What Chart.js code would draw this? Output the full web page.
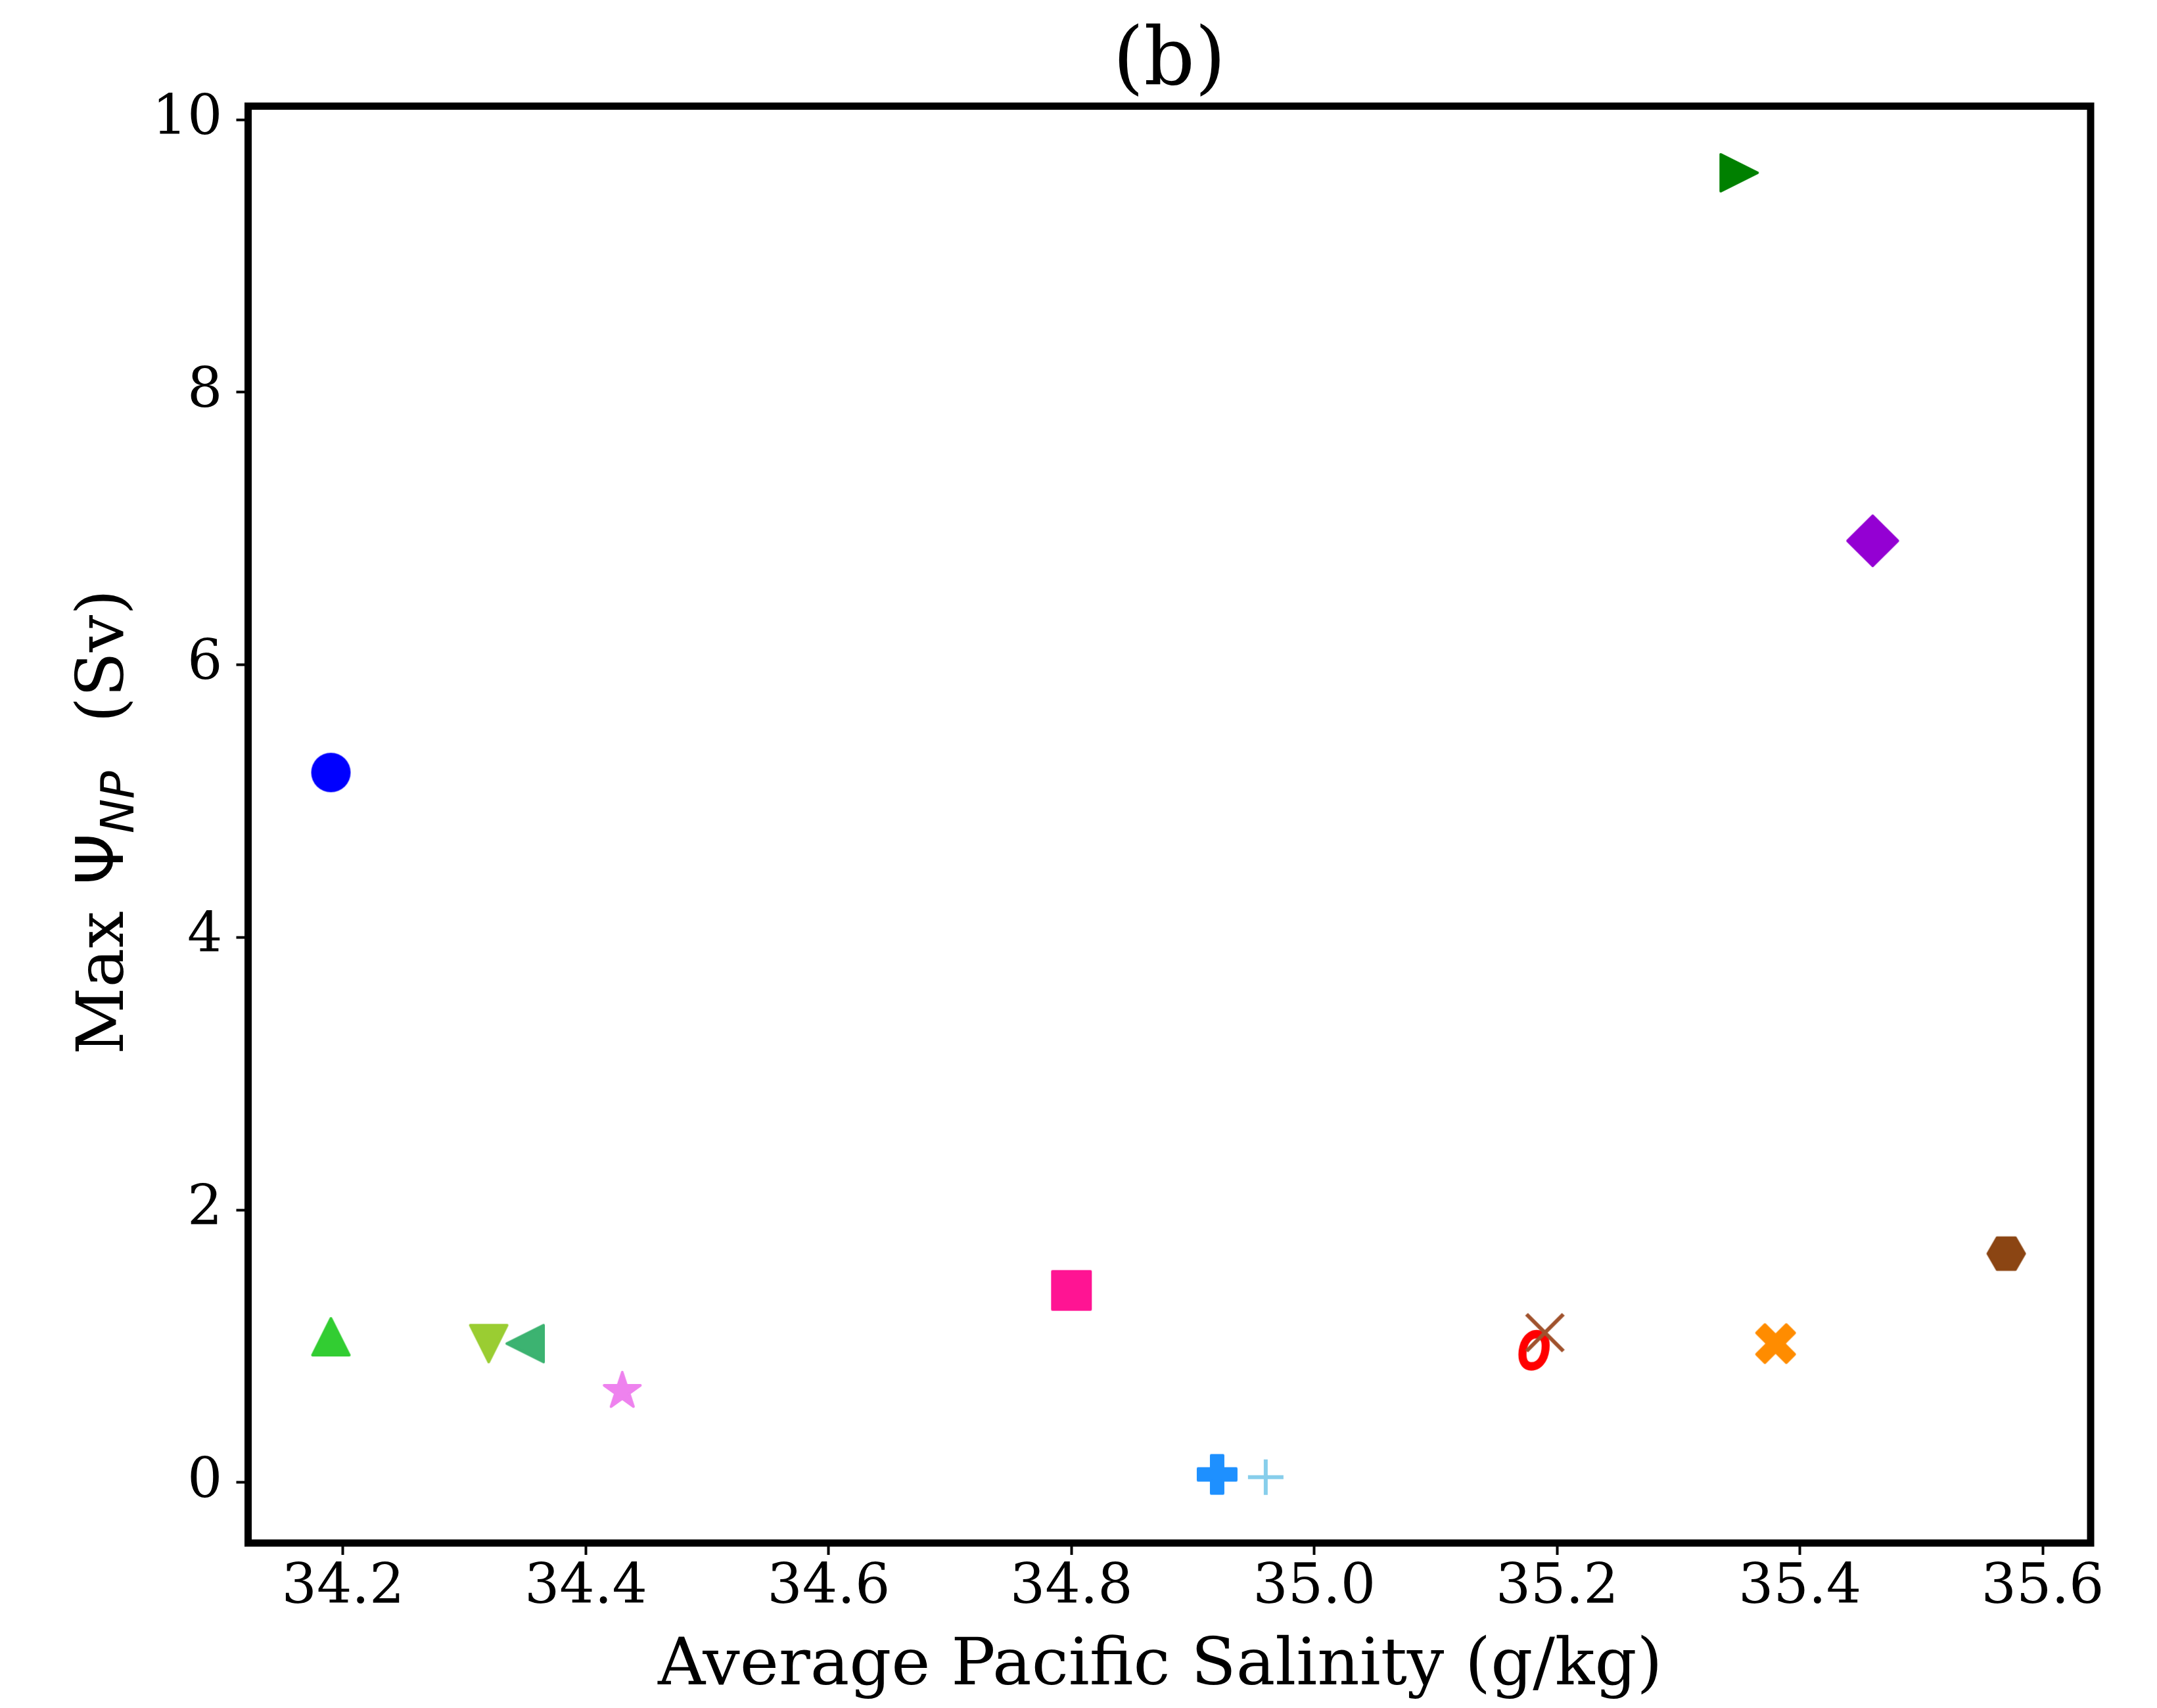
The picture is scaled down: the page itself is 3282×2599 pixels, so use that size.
<!DOCTYPE html>
<html>
<head>
<meta charset="utf-8">
<script src="https://cdn.jsdelivr.net/npm/chart.js@4.4.0/dist/chart.umd.min.js"></script>
<style>
    html, body { margin: 0; padding: 0; background: #ffffff; }
    #salinity_canvas { display: block; }
</style>
</head>
<body>
<canvas id="salinity_canvas" width="3282" height="2599" style="width:3282px;height:2599px"></canvas>
<script>
// one point per model run
const salinity = [34.19, 34.19, 34.32, 34.35, 34.43, 34.80, 34.92, 34.96, 35.183, 35.19, 35.35, 35.38, 35.46, 35.57];
const max_psi_np = [5.21, 1.07, 1.02, 1.02, 0.68, 1.41, 0.06, 0.04, 0.97, 1.10, 9.61, 1.02, 6.91, 1.68];
const marker_shapes = ['circle', 'tri_up', 'tri_down', 'tri_left', 'star', 'square', 'plus_filled', 'plus',
                       'text_o', 'x', 'tri_right', 'x_filled', 'diamond', 'hexagon'];
const marker_colors = ['#0000FF', '#32CD32', '#9ACD32', '#3CB371', '#EE82EE', '#FF1493', '#1E90FF', '#87CEEB',
                       '#FF0000', '#A0522D', '#008000', '#FF8C00', '#9400D3', '#8B4513'];

const x_ticks = [34.2, 34.4, 34.6, 34.8, 35.0, 35.2, 35.4, 35.6];
const y_ticks = [0, 2, 4, 6, 8, 10];
const x_range = [34.1218, 35.6395];
const y_range = [-0.4436, 10.099];

const title_text = '(b)';
const x_label = 'Average Pacific Salinity (g/kg)';

const SERIF = "'DejaVu Serif'";
const SANS = "'DejaVu Sans'";

function path_plus(ctx, a, w) {
    ctx.beginPath();
    ctx.moveTo(-w, -a); ctx.lineTo(w, -a); ctx.lineTo(w, -w); ctx.lineTo(a, -w);
    ctx.lineTo(a, w); ctx.lineTo(w, w); ctx.lineTo(w, a); ctx.lineTo(-w, a);
    ctx.lineTo(-w, w); ctx.lineTo(-a, w); ctx.lineTo(-a, -w); ctx.lineTo(-w, -w);
    ctx.closePath();
}

function make_marker(shape, color) {
    let size = 100;
    let c = document.createElement('canvas');
    c.width = size;
    c.height = size;
    let ctx = c.getContext('2d');
    ctx.translate(size / 2, size / 2);
    ctx.fillStyle = color;
    ctx.strokeStyle = color;
    ctx.lineJoin = 'round';
    ctx.lineWidth = 4;

    let rotations = { tri_up: 0, tri_right: Math.PI / 2, tri_down: Math.PI, tri_left: -Math.PI / 2 };

    if (shape === 'circle') {
        ctx.beginPath();
        ctx.arc(0, 0, 30, 0, Math.PI * 2);
        ctx.fill();
    } else if (shape in rotations) {
        ctx.rotate(rotations[shape]);
        ctx.beginPath();
        ctx.moveTo(0, -28); ctx.lineTo(-28, 28); ctx.lineTo(28, 28);
        ctx.closePath();
        ctx.fill(); ctx.stroke();
    } else if (shape === 'square') {
        ctx.beginPath();
        ctx.rect(-29, -29, 58, 58);
        ctx.fill(); ctx.stroke();
    } else if (shape === 'diamond') {
        ctx.rotate(Math.PI / 4);
        ctx.beginPath();
        ctx.rect(-27, -27, 54, 54);
        ctx.fill(); ctx.stroke();
    } else if (shape === 'plus_filled') {
        path_plus(ctx, 29, 9);
        ctx.fill(); ctx.stroke();
    } else if (shape === 'x_filled') {
        ctx.rotate(Math.PI / 4);
        path_plus(ctx, 32, 9);
        ctx.fill(); ctx.stroke();
    } else if (shape === 'plus') {
        ctx.lineWidth = 6;
        ctx.lineCap = 'butt';
        ctx.beginPath();
        ctx.moveTo(-27, 0); ctx.lineTo(27, 0);
        ctx.moveTo(0, -27); ctx.lineTo(0, 27);
        ctx.stroke();
    } else if (shape === 'x') {
        ctx.lineWidth = 6;
        ctx.lineCap = 'butt';
        ctx.beginPath();
        ctx.moveTo(-28, -28); ctx.lineTo(28, 28);
        ctx.moveTo(28, -28); ctx.lineTo(-28, 28);
        ctx.stroke();
    } else if (shape === 'star') {
        let outer = 29, inner = 29 * 0.382;
        ctx.translate(0, 2);
        ctx.beginPath();
        for (let i = 0; i < 10; i++) {
            let r = i % 2 === 0 ? outer : inner;
            let a = -Math.PI / 2 + i * Math.PI / 5;
            ctx.lineTo(r * Math.cos(a), r * Math.sin(a));
        }
        ctx.closePath();
        ctx.fill(); ctx.stroke();
    } else if (shape === 'hexagon') {
        ctx.beginPath();
        for (let i = 0; i < 6; i++) {
            let a = i * Math.PI / 3;
            ctx.lineTo(28 * Math.cos(a), 28 * Math.sin(a));
        }
        ctx.closePath();
        ctx.fill(); ctx.stroke();
    } else if (shape === 'text_o') {
        // text marker, a little taller than wide like the mathtext glyph
        ctx.scale(0.92, 1.08);
        ctx.font = "italic 90px " + SANS;
        ctx.lineWidth = 5;
        let m = ctx.measureText('o');
        let gx = -(m.actualBoundingBoxRight - m.actualBoundingBoxLeft) / 2 + m.actualBoundingBoxLeft;
        let gy = (m.actualBoundingBoxAscent - m.actualBoundingBoxDescent) / 2;
        ctx.fillText('o', gx, gy);
        ctx.strokeText('o', gx, gy);
    }
    return c;
}

let points = salinity.map((s, i) => ({ x: s, y: max_psi_np[i] }));
let markers = marker_shapes.map((s, i) => make_marker(s, marker_colors[i]));

function draw_y_label(ctx, cx, cy) {
    let pieces = [
        { text: 'Max ', font: '100px ' + SERIF, shift: 0, gap: 8 },
        { text: '\u03A8', font: '100px ' + SANS, shift: 0, gap: 0 },
        { text: 'NP', font: 'italic 70px ' + SANS, shift: 16, gap: 10 },
        { text: '  (Sv)', font: '100px ' + SERIF, shift: 0, gap: 0 }
    ];
    let total = 0;
    pieces.forEach(p => {
        ctx.font = p.font;
        p.width = ctx.measureText(p.text).width;
        total += p.width + p.gap;
    });
    ctx.save();
    ctx.translate(cx, cy);
    ctx.rotate(-Math.PI / 2);
    ctx.textAlign = 'left';
    ctx.textBaseline = 'alphabetic';
    let pos = -total / 2;
    pieces.forEach(p => {
        ctx.font = p.font;
        ctx.fillText(p.text, pos, p.shift);
        pos += p.width + p.gap;
    });
    ctx.restore();
}

const frame_and_labels = {
    id: 'frame_and_labels',
    afterDraw(chart) {
        let ctx = chart.ctx;
        let area = chart.chartArea;
        let mid_x = (area.left + area.right) / 2;
        let mid_y = (area.top + area.bottom) / 2;

        ctx.save();
        ctx.lineWidth = 11;
        ctx.strokeStyle = '#000000';
        ctx.lineJoin = 'miter';
        ctx.strokeRect(area.left, area.top, area.right - area.left, area.bottom - area.top);

        ctx.fillStyle = '#000000';
        ctx.textAlign = 'center';
        ctx.textBaseline = 'alphabetic';
        ctx.font = '121px ' + SERIF;
        ctx.fillText(title_text, mid_x, 128);

        ctx.font = '100px ' + SERIF;
        ctx.fillText(x_label, mid_x - 14, 2563);

        draw_y_label(ctx, 187, mid_y - 4);
        ctx.restore();
    }
};

let salinity_plot = new Chart(document.getElementById('salinity_canvas'), {
    type: 'scatter',
    data: {
        datasets: [{
            label: 'runs',
            data: points,
            pointStyle: markers,
            pointRadius: 30,
            pointHoverRadius: 30,
            pointBorderWidth: 0
        }]
    },
    options: {
        responsive: false,
        devicePixelRatio: 1,
        animation: false,
        events: [],
        layout: { padding: { top: 161.5, right: 101, left: 0, bottom: 0 } },
        plugins: {
            legend: { display: false },
            tooltip: { enabled: false },
            title: { display: false }
        },
        scales: {
            x: {
                type: 'linear',
                position: 'bottom',
                min: x_range[0],
                max: x_range[1],
                afterBuildTicks: (scale) => { scale.ticks = x_ticks.map(v => ({ value: v })); },
                afterFit: (scale) => { scale.height = 251; },
                border: { display: false },
                grid: { display: true, drawOnChartArea: false, drawTicks: true, tickLength: 18, tickWidth: 4, tickColor: '#000000' },
                ticks: {
                    font: { family: 'DejaVu Serif', size: 84 },
                    color: '#000000',
                    padding: 1,
                    maxRotation: 0,
                    autoSkip: false,
                    callback: (v) => Number(v).toFixed(1)
                }
            },
            y: {
                type: 'linear',
                position: 'left',
                min: y_range[0],
                max: y_range[1],
                afterBuildTicks: (scale) => { scale.ticks = y_ticks.map(v => ({ value: v })); },
                afterFit: (scale) => { scale.width = 377.5; },
                border: { display: false },
                grid: { display: true, drawOnChartArea: false, drawTicks: true, tickLength: 18, tickWidth: 4, tickColor: '#000000' },
                ticks: {
                    font: { family: 'DejaVu Serif', size: 84 },
                    color: '#000000',
                    padding: 21,
                    autoSkip: false,
                    callback: (v) => String(v)
                }
            }
        }
    },
    plugins: [frame_and_labels]
});
</script>
</body>
</html>
